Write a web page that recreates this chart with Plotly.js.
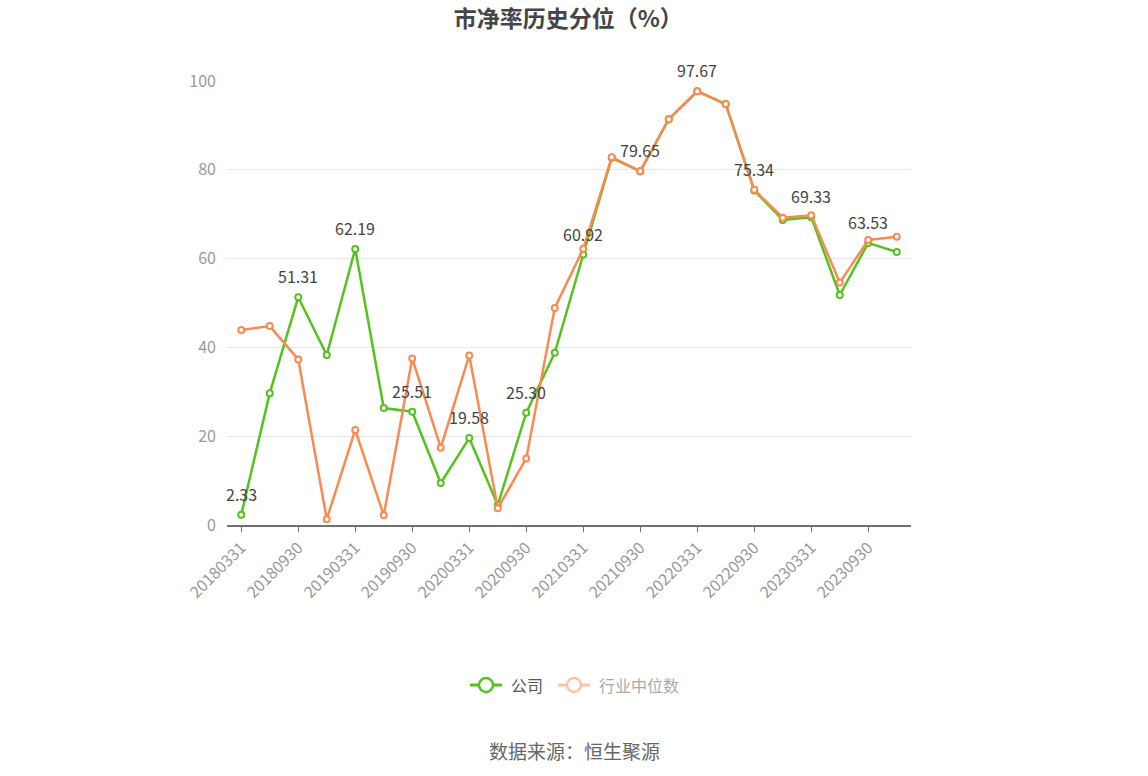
<!DOCTYPE html>
<html>
<head>
<meta charset="utf-8">
<script src="https://cdn.plot.ly/plotly-3.0.1.min.js"></script>
<style>
html,body{margin:0;padding:0;background:#fff;}
#chart{width:1148px;height:776px;}
</style>
</head>
<body>
<div id="chart"></div>
<script>
const categories = ["20180331","20180630","20180930","20181231","20190331","20190630","20190930","20191231",
  "20200331","20200630","20200930","20201231","20210331","20210630","20210930","20211231",
  "20220331","20220630","20220930","20221231","20230331","20230630","20230930","20231231"];
const companyValues = [2.33,29.7,51.31,38.3,62.19,26.35,25.51,9.46,19.58,4.5,25.30,38.8,60.92,82.7,79.65,91.4,97.67,94.8,75.34,68.7,69.33,51.8,63.53,61.5];
const industryValues = [43.9,44.8,37.3,1.3,21.4,2.2,37.5,17.4,38.2,3.75,15.0,48.9,62.2,82.8,79.7,91.4,97.67,94.8,75.5,69.2,69.75,54.6,64.2,64.9];
const tickLabels = ["20180331","20180930","20190331","20190930","20200331","20200930","20210331","20210930","20220331","20220930","20230331","20230930"];
const seriesNames = ["公司","行业中位数"];
const titleText = "市净率历史分位（%）";
const sourceText = "数据来源：恒生聚源";

const green = "#55c21e";
const orange = "#f88a52";
const FONT = "'Noto Sans CJK SC', 'Noto Sans', sans-serif";

const traces = [
  {
    x: categories, y: companyValues, name: seriesNames[0], type: "scatter", mode: "lines+markers",
    line: {color: green, width: 2.5},
    marker: {symbol: "circle", size: 6, color: "#fff", line: {color: green, width: 2}},
    hoverinfo: "x+y", showlegend: false, cliponaxis: false
  },
  {
    x: categories, y: industryValues, name: seriesNames[1], type: "scatter", mode: "lines+markers",
    line: {color: orange, width: 2.5},
    marker: {symbol: "circle", size: 6, color: "#fff", line: {color: orange, width: 2}},
    hoverinfo: "x+y", showlegend: false, cliponaxis: false
  }
];

const px = x => (x - 227) / 684;
const py = y => (525 - y) / 444;

const dataLabels = [];
companyValues.forEach((v, i) => {
  if (i % 2 === 0) {
    dataLabels.push({x: i, y: v, xref: "x", yref: "y", yshift: 21, showarrow: false,
      text: v.toFixed(2), xanchor: "center", yanchor: "middle",
      font: {family: FONT, size: 16, color: "#444"}});
  }
});

const layout = {
  width: 1148, height: 776,
  margin: {l: 227, r: 237, t: 81, b: 251},
  paper_bgcolor: "#fff", plot_bgcolor: "#fff",
  font: {family: FONT},
  title: {text: "<b>" + titleText + "</b>", x: 0.495, xanchor: "center", y: 1 - 19/776, yanchor: "middle", yref: "container",
          font: {family: FONT, size: 23, color: "#464646"}},
  xaxis: {
    type: "category", categoryorder: "array", categoryarray: categories,
    range: [-0.5, categories.length - 0.5],
    tickmode: "array", tickvals: tickLabels, ticktext: tickLabels,
    tickangle: -45, tickfont: {family: FONT, size: 16, color: "#999"},
    ticks: "outside", ticklen: 5, tickcolor: "#6e7079", tickwidth: 1,
    showline: true, linecolor: "#6e7079", linewidth: 2,
    showgrid: false, zeroline: false, fixedrange: true
  },
  yaxis: {
    range: [0, 100], tickvals: [0,20,40,60,80,100],
    tickfont: {family: FONT, size: 16, color: "#999"},
    showgrid: true, gridcolor: "#e3e7f2", gridwidth: 1,
    showline: false, zeroline: false, ticks: "", ticklabelstandoff: 10, fixedrange: true
  },
  shapes: [
    {type: "line", xref: "paper", yref: "paper", x0: px(470), x1: px(502), y0: py(685), y1: py(685), line: {color: green, width: 3}},
    {type: "circle", xref: "paper", yref: "paper", x0: px(479), x1: px(493), y0: py(678), y1: py(692), fillcolor: "#fff", line: {color: green, width: 2.5}},
    {type: "line", xref: "paper", yref: "paper", x0: px(558), x1: px(590), y0: py(685), y1: py(685), line: {color: "#fbc3a6", width: 3}},
    {type: "circle", xref: "paper", yref: "paper", x0: px(567), x1: px(581), y0: py(678), y1: py(692), fillcolor: "#fff", line: {color: "#fbc3a6", width: 2.5}}
  ],
  annotations: dataLabels.concat([
    {xref: "paper", yref: "paper", x: px(509), y: py(685), xanchor: "left", yanchor: "middle", showarrow: false,
     text: seriesNames[0], font: {family: FONT, size: 16, color: "#555"}},
    {xref: "paper", yref: "paper", x: px(597), y: py(685), xanchor: "left", yanchor: "middle", showarrow: false,
     text: seriesNames[1], font: {family: FONT, size: 16, color: "#aaa"}},
    {xref: "paper", yref: "paper", x: px(574), y: py(750), xanchor: "center", yanchor: "middle", showarrow: false,
     text: sourceText, font: {family: FONT, size: 19, color: "#666"}}
  ])
};

Plotly.newPlot("chart", traces, layout, {displayModeBar: false, staticPlot: true});
</script>
</body>
</html>
